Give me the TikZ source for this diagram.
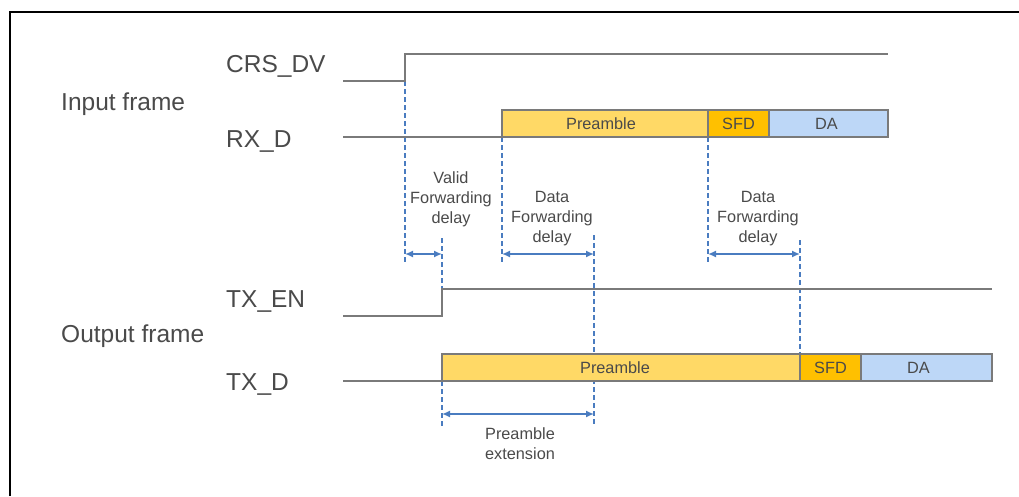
\documentclass[tikz,border=0pt]{standalone}
\usepackage{fontspec}
\setmainfont{Liberation Sans}
\usetikzlibrary{arrows.meta}
\definecolor{txt}{HTML}{4A4A4A}
\definecolor{sig}{HTML}{7A7A7A}
\definecolor{pre}{HTML}{FFD966}
\definecolor{sfd}{HTML}{FFC000}
\definecolor{da}{HTML}{BDD7F7}
\definecolor{mark}{HTML}{4A7CC0}
\tikzset{
  biglabel/.style={anchor=base west, inner sep=0pt, text=txt, font=\fontsize{24.5}{28}\selectfont},
  smalllabel/.style={align=center, inner sep=0pt, text=txt, font=\fontsize{16.3}{20}\selectfont},
  signal/.style={draw=sig, line width=2pt},
  field/.style={draw=sig, line width=1.5pt, anchor=south west, minimum height=27pt, inner sep=0pt, outer sep=0pt, text=txt, font=\fontsize{16.3}{20}\selectfont},
  guide/.style={draw=mark, line width=1.5pt, dash pattern=on 4.5pt off 3.5pt},
  span/.style={draw=mark, line width=1.5pt, {Latex[length=8pt,width=7pt]}-{Latex[length=8pt,width=7pt]}}
}
\begin{document}
\begin{tikzpicture}[x=1pt,y=-1pt]
\useasboundingbox (0,0) rectangle (1019,496);
% page frame (top and left edges)
\draw[black, line width=2.5pt] (10,496) -- (10,12) -- (1019,12);

% group and signal names
\node[biglabel] (inframe) at (61,110) {Input frame};
\node[biglabel] (outframe) at (61,342) {Output frame};
\node[biglabel] (crsdv) at (226,72) {CRS\_DV};
\node[biglabel] (rxd) at (226,147) {RX\_D};
\node[biglabel] (txen) at (226,307) {TX\_EN};
\node[biglabel] (txd) at (226,390) {TX\_D};

% timing reference points
\coordinate (crsrise) at (405,81);
\coordinate (crsrisetop) at (405,54);
\coordinate (rxstart) at (502,137);
\coordinate (rxsfd) at (708,137);
\coordinate (txrise) at (442,316);
\coordinate (txrisetop) at (442,289);
\coordinate (txstart) at (442,381);
\coordinate (txsfd) at (800,353);

% dashed guide lines
\draw[guide] (crsrise) -- (405,263);
\draw[guide] (rxstart) -- (502,263);
\draw[guide] (rxsfd) -- (708,264);
\draw[guide] (442,238) -- (txrisetop);
\draw[guide] (txstart) -- (442,427);
\draw[guide] (594,235) -- (594,427);
\draw[guide] (800,240) -- (txsfd);

% CRS_DV
\draw[signal] (343,81) -- (crsrise) -- (crsrisetop) -- (888,54);
% RX_D
\draw[signal] (343,137) -- (rxstart);
\node[field, fill=pre, minimum width=206pt] (rxpre) at (rxstart) {\hspace{-8pt}Preamble};
\node[field, fill=sfd, minimum width=61pt] (rxsfdbox) at (rxpre.south east) {SFD};
\node[field, fill=da, minimum width=119pt] (rxda) at (rxsfdbox.south east) {\hspace{-4pt}DA};
% TX_EN
\draw[signal] (343,316) -- (txrise) -- (txrisetop) -- (992,289);
% TX_D
\draw[signal] (343,381) -- (txstart);
\node[field, fill=pre, minimum width=358pt] (txpre) at (txstart) {\hspace{-12pt}Preamble};
\node[field, fill=sfd, minimum width=61pt] (txsfdbox) at (txpre.south east) {SFD};
\node[field, fill=da, minimum width=131pt] (txda) at (txsfdbox.south east) {\hspace{-16pt}DA};

% delay spans
\coordinate (a1) at (405,254); \coordinate (a2) at (442,254);
\coordinate (b1) at (502,254); \coordinate (b2) at (594,254);
\coordinate (c1) at (708,254); \coordinate (c2) at (800,254);
\coordinate (d1) at (442,414); \coordinate (d2) at (594,414);
\draw[span] (a1) -- (a2);
\draw[span] (b1) -- (b2);
\draw[span] (c1) -- (c2);
\draw[span] (d1) -- (d2);

\node[smalllabel] (validdelay) at (451,199) {Valid\\Forwarding\\delay};
\node[smalllabel] (datadelay1) at (552,219) {Data\\Forwarding\\delay};
\node[smalllabel] (datadelay2) at (758,219) {Data\\Forwarding\\delay};
\node[smalllabel] (preext) at (520,444) {Preamble\\extension};
\end{tikzpicture}
\end{document}
